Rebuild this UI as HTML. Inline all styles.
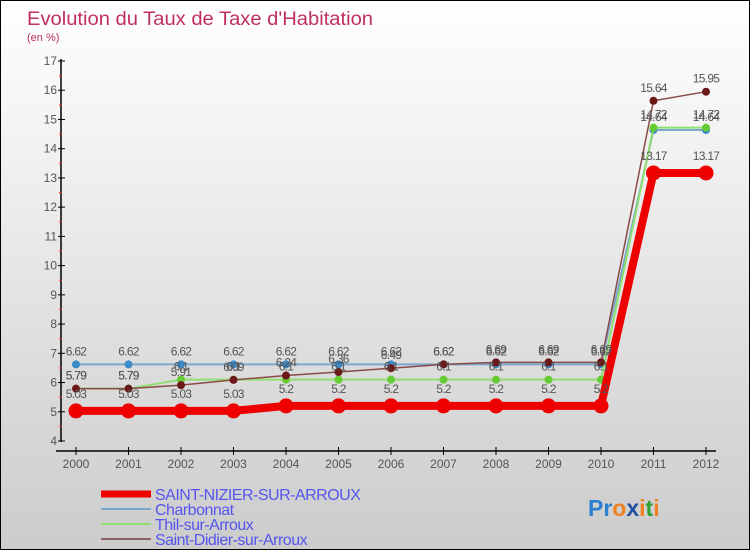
<!DOCTYPE html>
<html><head><meta charset="utf-8">
<style>
body{margin:0;width:750px;height:550px;overflow:hidden;font-family:"Liberation Sans",sans-serif}
#wrap{position:relative;width:748px;height:548px;border:1px solid #000;background:linear-gradient(#fff 0%,#f0f0f0 30%,#d8d8d8 75%,#cccccc 100%)}
svg text{font-family:"Liberation Sans",sans-serif}
</style></head><body>
<div id="wrap">
<svg id="chart" width="748" height="548">
<text x="26" y="24" font-size="19" fill="#c0305f" font-weight="300" textLength="346" lengthAdjust="spacingAndGlyphs">Evolution du Taux de Taxe d'Habitation</text>
<text x="26" y="40" font-size="11" fill="#c0305f">(en %)</text>
<g id="axes"></g><g id="series"></g><g id="labels"></g>
<g id="legend"></g>
<text x="587" y="515" font-size="23" font-weight="bold"><tspan fill="#2a7fd0">Pr</tspan><tspan fill="#f08020">o</tspan><tspan fill="#2050a0">x</tspan><tspan fill="#f08020">i</tspan><tspan fill="#30a030">t</tspan><tspan fill="#f08020">i</tspan></text>
</svg></div>
<script>
const years=[2000,2001,2002,2003,2004,2005,2006,2007,2008,2009,2010,2011,2012];
const nizier=[5.03,5.03,5.03,5.03,5.2,5.2,5.2,5.2,5.2,5.2,5.2,13.17,13.17];
const charbonnat=[6.62,6.62,6.62,6.62,6.62,6.62,6.62,6.62,6.62,6.62,6.62,14.64,14.64];
const thil=[5.79,5.79,6.1,6.1,6.1,6.1,6.1,6.1,6.1,6.1,6.1,14.72,14.72];
const didier=[5.79,5.79,5.91,6.09,6.24,6.36,6.49,6.62,6.69,6.69,6.69,15.64,15.95];
const yTicks=[4,5,6,7,8,9,10,11,12,13,14,15,16,17];
const NS="http://www.w3.org/2000/svg";
const X=i=>75+i*52.5;
const Y=v=>440-(v-4)*(380/13);
function mk(t,a,p){const e=document.createElementNS(NS,t);for(const k in a)e.setAttribute(k,a[k]);p.appendChild(e);return e;}
const ax=document.getElementById('axes');
let l=mk('line',{x1:60,y1:58,x2:60,y2:441,stroke:'#000','stroke-width':1.5},ax);


l=mk('line',{x1:55,y1:450,x2:715,y2:450,stroke:'#000','stroke-width':1.5},ax);


yTicks.forEach(v=>{
 mk('line',{x1:57,y1:Y(v),x2:64,y2:Y(v),stroke:'#000'},ax);
 if(v<17){mk('line',{x1:58,y1:Y(v+0.5),x2:61,y2:Y(v+0.5),stroke:'#e03030'},ax);}
 const t=mk('text',{x:56,y:Y(v)+4,'font-size':12,fill:'#555','text-anchor':'end'},ax);t.textContent=v;
 
 
});
years.forEach((yr,i)=>{
 mk('line',{x1:X(i),y1:446,x2:X(i),y2:454,stroke:'#000'},ax);
 const t=mk('text',{x:X(i),y:467,'font-size':12,fill:'#555','text-anchor':'middle'},ax);t.textContent=yr;
 
 
});
const sg=document.getElementById('series'),lg=document.getElementById('labels');
const defs=[
 {d:charbonnat,c:'#7aa8cc',dot:'#3b8ac8',w:2,r:4,n:'charbonnat'},
 {d:thil,c:'#90dd70',dot:'#66cc33',w:2,r:4,n:'thil-sur-arroux'},
 {d:didier,c:'#8a4a4a',dot:'#6a1818',w:1.5,r:4,n:'saint-didier-sur-arroux'},
 {d:nizier,c:'#ee0000',dot:'#ee0000',w:8,r:7.5,n:'saint-nizier-sur-arroux'}];
defs.forEach(s=>{
 const p=mk('polyline',{points:s.d.map((v,i)=>X(i)+','+Y(v)).join(' '),fill:'none',stroke:s.c,'stroke-width':s.w},sg);
 
 
 s.d.forEach((v,i)=>{
  const c=mk('circle',{cx:X(i),cy:Y(v),r:s.r,fill:s.dot},sg);
  
  
  const t=mk('text',{x:X(i),y:Y(v)-(s.r>5?13:9),'font-size':12,fill:'#555','text-anchor':'middle','letter-spacing':'-0.7'},lg);
  t.textContent=String(v);
  
  
 });
});
const leg=document.getElementById('legend');
const names=['SAINT-NIZIER-SUR-ARROUX','Charbonnat','Thil-sur-Arroux','Saint-Didier-sur-Arroux'];
const lc=['#ee0000','#7aa8cc','#90dd70','#8a6060'],lw=[7,2,2,2];
names.forEach((n,i)=>{
 const y=493+i*15;
 mk('line',{x1:100,y1:y,x2:150,y2:y,stroke:lc[i],'stroke-width':lw[i]},leg);
 const t=mk('text',{x:154,y:y+6,'font-size':16,fill:'#5555ee','letter-spacing':'-0.5'},leg);t.textContent=n;
 
 
});
</script>
</body></html>
